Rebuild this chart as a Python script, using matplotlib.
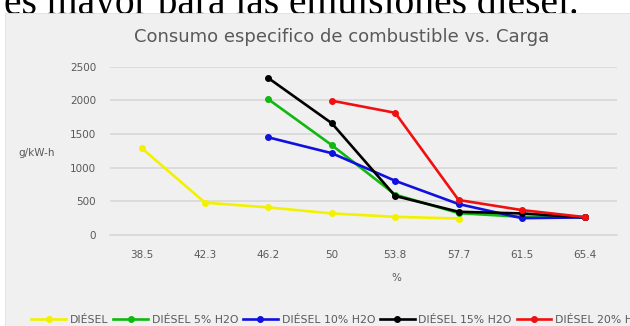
#!/usr/bin/env python3
import matplotlib as mpl
mpl.use("Agg")
import matplotlib.pyplot as plt
import numpy as np
from matplotlib.patches import Rectangle

W_PX, H_PX = 630, 326

COLORS = {
    "bg": "#F0F0F0",
    "grid": "#D9D9D9",
    "text": "#595959",
}

# data
carga = ["38.5", "42.3", "46.2", "50", "53.8", "57.7", "61.5", "65.4"]
diesel = [1290, 480, 410, 320, 270, 245, None, None]
diesel_5 = [None, None, 2015, 1335, 600, 325, 270, 260]
diesel_10 = [None, None, 1450, 1215, 805, 460, 250, 262]
diesel_15 = [None, None, 2330, 1660, 580, 345, 320, 262]
diesel_20 = [None, None, None, 1995, 1815, 520, 370, 265]

series_labels = ["DIÉSEL", "DIÉSEL 5% H2O", "DIÉSEL 10% H2O", "DIÉSEL 15% H2O", "DIÉSEL 20% H2O"]
series_colors = ["#F2F200", "#10B810", "#1010E0", "#000000", "#F01010"]
y_ticks = [0, 500, 1000, 1500, 2000, 2500]


def px_x(v):
    return v / W_PX


def px_y(v):
    return 1 - v / H_PX


fig = plt.figure(figsize=(W_PX / 100, H_PX / 100), dpi=100, facecolor="white")

# caption text above the chart (cut off in the source)
fig.text(px_x(4), px_y(14), "es mayor para las emulsiones diesel.", family="Liberation Serif",
         fontsize=28.5, color="black", ha="left", va="baseline", zorder=0)
fig.patches.append(Rectangle((px_x(5), 0), 1, px_y(13), transform=fig.transFigure,
                             facecolor=COLORS["bg"], edgecolor="#E0E0E0", lw=0.6, zorder=1))

ax = fig.add_axes([px_x(110), px_y(235), px_x(617) - px_x(110), px_y(66.7) - px_y(235)])
ax.set_facecolor("none")
ax.set_zorder(2)

x = np.arange(len(carga))
all_series = [diesel, diesel_5, diesel_10, diesel_15, diesel_20]
for vals, lab, col in zip(all_series, series_labels, series_colors):
    y = np.array([np.nan if v is None else v for v in vals], dtype=float)
    ax.plot(x, y, color=col, lw=1.9, marker="o", ms=4, label=lab, zorder=3)

ax.set_xlim(-0.5, len(carga) - 0.5)
ax.set_ylim(0, 2500)
ax.set_xticks(x)
ax.set_xticklabels(carga)
ax.set_yticks(y_ticks)
ax.yaxis.grid(True, color=COLORS["grid"], lw=1.3)
ax.set_axisbelow(True)
for s in ["top", "right", "left"]:
    ax.spines[s].set_visible(False)
ax.spines["bottom"].set_color(COLORS["grid"])
ax.spines["bottom"].set_linewidth(1.3)
ax.tick_params(length=0, labelsize=7.5, colors=COLORS["text"])
ax.tick_params(axis="x", pad=11)
ax.tick_params(axis="y", pad=10)

fig.text(px_x(342), px_y(37), "Consumo especifico de combustible vs. Carga", fontsize=13,
         color=COLORS["text"], ha="center", va="center", zorder=3)
fig.text(px_x(37), px_y(153), "g/kW-h", fontsize=7.5, color=COLORS["text"], ha="center", va="center", zorder=3)
fig.text(px_x(396), px_y(278), "%", fontsize=7.5, color=COLORS["text"], ha="center", va="center", zorder=3)

leg = fig.legend(loc="center left", bbox_to_anchor=(px_x(26), px_y(320)), ncol=5, frameon=False,
                 fontsize=7.8, handlelength=3.2, handletextpad=0.35, columnspacing=0.45, borderpad=0)
for t in leg.get_texts():
    t.set_color(COLORS["text"])
leg.set_zorder(3)

fig.savefig("out.png", dpi=100, facecolor="white")
